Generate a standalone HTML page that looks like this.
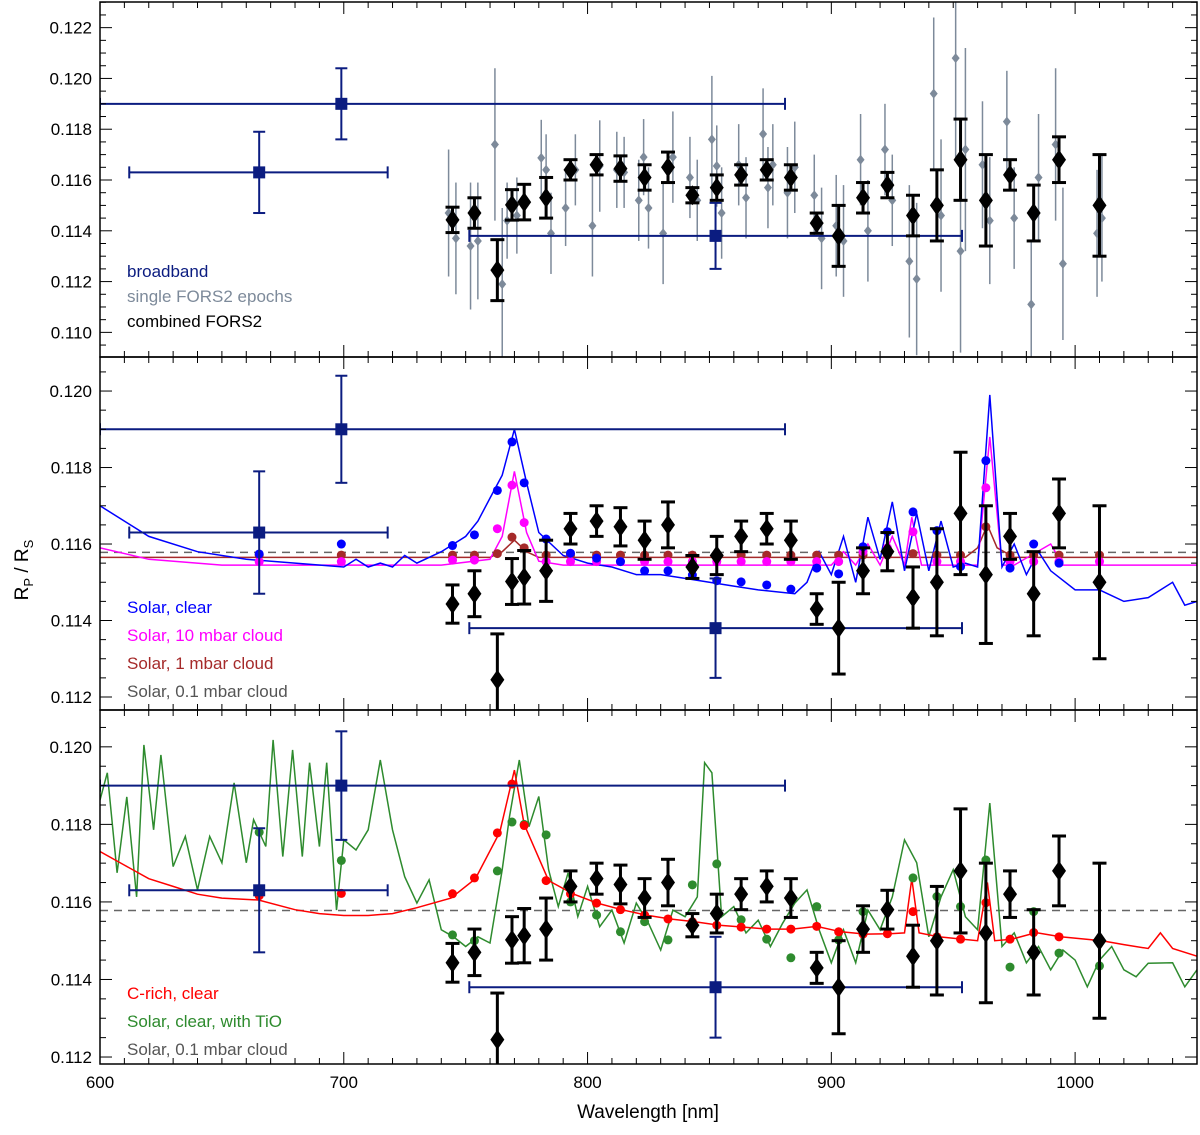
<!DOCTYPE html>
<html><head><meta charset="utf-8"><style>
body{margin:0;background:#fff}
svg{display:block;font-family:"Liberation Sans",sans-serif}
</style></head><body>
<svg id="chart" width="1200" height="1135" viewBox="0 0 1200 1135"></svg>
<script>
// ---------- data ----------
const combWl=[744.6,753.6,763,769,774,783,793,803.7,813.5,823.4,833,843,853,863,873.5,883.4,894,903,913,923,933.5,943.3,953,963.4,973.3,983,993.4,1010];
const combVal=[0.11443,0.1147,0.11245,0.11502,0.11513,0.1153,0.1164,0.1166,0.11645,0.1161,0.1165,0.1154,0.1157,0.1162,0.1164,0.1161,0.1143,0.1138,0.1153,0.1158,0.1146,0.1150,0.1168,0.1152,0.1162,0.1147,0.1168,0.1150];
const combErr=[0.0005,0.0006,0.0012,0.0006,0.0007,0.0008,0.0004,0.0004,0.0005,0.0005,0.0006,0.0003,0.0005,0.0004,0.0004,0.0005,0.0004,0.0012,0.0006,0.0005,0.0008,0.0014,0.0016,0.0018,0.0006,0.0011,0.0009,0.0020];
const bbWl=[665.3,699,852.5];
const bbVal=[0.1163,0.1190,0.1138];
const bbErr=[0.0016,0.0014,0.0013];
const bbLo=[612,600,751.5];
const bbHi=[718,881,953.6];
const epWl=[743,746,752,755,762,765,767,771,781,783,785,791,795,802,805,812,815,821,823,825,831,835,842,845,851,853,855,862,865,872,874,876,882,885,893,896,902,905,912,915,922,925,932,935,942,945,951,953,955,962,965,972,975,982,985,992,995,1009,1011];
const epVal=[0.1147,0.1137,0.1134,0.1136,0.1174,0.1119,0.1144,0.1146,0.11687,0.1164,0.1139,0.1149,0.1164,0.1142,0.11655,0.1164,0.1163,0.1152,0.1169,0.1149,0.1139,0.1169,0.1161,0.1152,0.1176,0.11655,0.1147,0.1166,0.1153,0.11781,0.1157,0.1166,0.1155,0.1165,0.1154,0.1137,0.1142,0.1136,0.1168,0.1140,0.1172,0.1152,0.1128,0.1121,0.1194,0.1146,0.1208,0.1132,0.1172,0.1166,0.1144,0.1183,0.1145,0.1111,0.1161,0.1174,0.1127,0.1139,0.1145];
const epErr=[0.0025,0.0022,0.0025,0.0023,0.003,0.003,0.0015,0.0015,0.0015,0.0014,0.0016,0.0015,0.0014,0.002,0.0018,0.0015,0.0014,0.0016,0.0015,0.0016,0.002,0.0018,0.0016,0.0016,0.0025,0.0016,0.0018,0.0016,0.0016,0.0018,0.0016,0.0016,0.0018,0.0018,0.0016,0.002,0.002,0.0022,0.0018,0.002,0.0018,0.0018,0.003,0.003,0.003,0.003,0.004,0.004,0.004,0.0025,0.0025,0.002,0.002,0.0025,0.0025,0.003,0.003,0.0025,0.0025];
const binWl=[665.3,699,744.6,753.6,763,769,774,783,793,803.7,813.5,823.4,833,843,853,863,873.5,883.4,894,903,913,923,933.5,943.3,953,963.4,973.3,983,993.4,1010];
const blueDots=[0.11574,0.1160,0.11596,0.11624,0.1174,0.11867,0.1176,0.11613,0.11576,0.11563,0.11554,0.1153,0.1153,0.11519,0.11504,0.11501,0.11493,0.11482,0.11537,0.11522,0.11593,0.11632,0.11684,0.11635,0.11541,0.11818,0.11537,0.1160,0.1155,0.11498];
const magDots=[0.11554,0.11554,0.11558,0.11558,0.1164,0.11754,0.11656,0.11554,0.11554,0.11554,0.11554,0.11554,0.11554,0.11554,0.11554,0.11554,0.11554,0.11554,0.11554,0.11554,0.1158,0.1159,0.11632,0.11554,0.11554,0.11747,0.11554,0.11554,0.11554,0.11554];
const brownDots=[0.11571,0.11571,0.11571,0.11571,0.11575,0.11618,0.1159,0.11571,0.11571,0.11571,0.11571,0.11571,0.11571,0.11571,0.11571,0.11571,0.11571,0.11571,0.11571,0.11571,0.11571,0.11571,0.11575,0.11571,0.11571,0.11645,0.11571,0.11571,0.11571,0.11571];
const redDots=[0.11616,0.11622,0.11621,0.11662,0.11778,0.11904,0.11797,0.11655,0.11621,0.11597,0.1158,0.11566,0.11556,0.11549,0.1154,0.11535,0.1153,0.1153,0.11537,0.11523,0.11517,0.11518,0.11575,0.1151,0.11504,0.11598,0.11504,0.11521,0.1151,0.115];
const greenDots=[0.1178,0.11707,0.11515,0.115,0.1168,0.11806,0.1180,0.11773,0.1160,0.11566,0.11523,0.11549,0.11502,0.11644,0.11698,0.11554,0.11504,0.11456,0.11588,0.11502,0.11575,0.11577,0.11662,0.11614,0.11588,0.11708,0.11432,0.11575,0.11468,0.11435];
const blueWl=[600,620,640,660,680,700,705,710,715,720,725,730,740,750,755,760,765,770,775,780,790,800,810,820,830,840,850,860,870,885,890,895,900,905,910,915,920,925,930,935,940,945,950,955,960,965,970,975,980,985,990,1000,1010,1020,1030,1040,1045,1050];
const blueVal=[0.1170,0.1162,0.1158,0.1156,0.1155,0.1154,0.1156,0.1154,0.1155,0.1154,0.1157,0.1155,0.1158,0.1162,0.1166,0.1172,0.1178,0.1190,0.1176,0.1163,0.1157,0.1155,0.1154,0.1152,0.1152,0.1151,0.1150,0.1149,0.1148,0.1147,0.1150,0.1158,0.1152,0.1162,0.1150,0.1167,0.1156,0.1171,0.1153,0.1168,0.1153,0.1166,0.1154,0.1155,0.1154,0.1199,0.1154,0.1160,0.1152,0.1158,0.1153,0.1148,0.1148,0.1145,0.1146,0.1150,0.1144,0.1145];
const magWl=[600,620,650,700,740,760,765,770,775,780,790,900,905,910,915,920,925,930,933,937,940,960,965,970,975,990,995,1000,1050];
const magVal=[0.1159,0.1156,0.11545,0.11545,0.11545,0.1156,0.1162,0.1179,0.1163,0.11555,0.11545,0.11545,0.1158,0.11545,0.1160,0.11545,0.1162,0.11545,0.1167,0.11545,0.11545,0.11545,0.1188,0.11545,0.11545,0.1160,0.11545,0.11545,0.11545];
const brownWl=[600,760,765,770,775,780,955,960,964,968,975,1050];
const brownVal=[0.11565,0.11565,0.1158,0.1161,0.1158,0.11565,0.11565,0.1159,0.1165,0.1159,0.11565,0.11565];
const cloudVal=0.11578;
const redWl=[600,610,620,630,640,650,665,680,690,700,710,720,730,744,754,764,770,774,784,794,804,814,824,834,844,854,864,874,884,894,904,914,924,930,933,936,944,954,960,964,967,974,984,994,1011,1020,1030,1035,1040,1050];
const redVal=[0.1173,0.11695,0.1166,0.1164,0.1162,0.1161,0.11605,0.1158,0.1157,0.11565,0.11565,0.1157,0.11585,0.1161,0.1166,0.1178,0.1194,0.1180,0.11655,0.11621,0.11597,0.1158,0.11566,0.11556,0.11549,0.1154,0.11535,0.1153,0.1153,0.11537,0.11523,0.11517,0.11518,0.1152,0.1166,0.1152,0.1151,0.11504,0.1150,0.1165,0.1150,0.11504,0.11521,0.1151,0.1150,0.1149,0.1148,0.1152,0.1148,0.1146];
const greenWl=[600,603,607,611,615,618,622,625,630,635,640,645,650,655,660,663,668,671,675,679,683,686,690,693,697,700,705,710,715,720,725,730,735,740,745,750,755,760,765,768,772,776,780,784,788,792,796,800,805,810,815,820,825,830,835,840,845,848,851,855,860,865,870,875,880,885,890,895,900,905,910,915,920,925,930,935,940,945,950,955,960,965,970,975,980,985,990,995,1000,1005,1010,1015,1020,1025,1030,1040,1045,1050];
const greenVal=[0.11863,0.11933,0.11675,0.11871,0.11613,0.12005,0.11786,0.11979,0.11691,0.11769,0.11631,0.11769,0.11701,0.11907,0.11701,0.11812,0.11743,0.12018,0.11717,0.11992,0.11717,0.11959,0.11743,0.11959,0.11579,0.1176,0.11734,0.11786,0.11966,0.11786,0.11665,0.11597,0.11657,0.11528,0.1151,0.11485,0.1151,0.11494,0.11683,0.1182,0.11966,0.11794,0.11872,0.11683,0.11588,0.11675,0.11562,0.1164,0.11536,0.11579,0.11494,0.11597,0.11545,0.11476,0.11579,0.11562,0.11613,0.11959,0.11933,0.11562,0.11588,0.1152,0.11553,0.11485,0.11545,0.11597,0.11631,0.11528,0.11443,0.11528,0.11443,0.11579,0.11528,0.11613,0.1176,0.11701,0.1151,0.11613,0.11683,0.11562,0.11528,0.11855,0.11485,0.1152,0.11443,0.11485,0.11425,0.11476,0.1145,0.11381,0.1145,0.11485,0.11425,0.11407,0.11442,0.11443,0.11381,0.11425];
const xTicks=[600,700,800,900,1000];
const topTicks=[0.110,0.112,0.114,0.116,0.118,0.120,0.122];
const midTicks=[0.112,0.114,0.116,0.118,0.120];
const botTicks=[0.112,0.114,0.116,0.118,0.120];

// ---------- helpers ----------
const NS="http://www.w3.org/2000/svg";
const svg=document.getElementById('chart');
function mk(tag,attrs,parent){const e=document.createElementNS(NS,tag);for(const k in attrs)e.setAttribute(k,attrs[k]);(parent||svg).appendChild(e);return e;}
const X0=100,X1=1197;
const xs=v=>X0+(v-600)*(X1-X0)/450;
const panels=[
 {name:'top',y0:2,y1:357,vTop:0.12301,vBot:0.10903,ticks:topTicks},
 {name:'middle',y0:357,y1:710,vTop:0.12089,vBot:0.11166,ticks:midTicks},
 {name:'bottom',y0:710,y1:1064,vTop:0.12095,vBot:0.11182,ticks:botTicks}
];
panels.forEach(p=>{p.ys=v=>p.y0+(p.vTop-v)*(p.y1-p.y0)/(p.vTop-p.vBot);});

function clipFor(p){
  const id='clip-'+p.name;
  const d=mk('defs',{});const c=mk('clipPath',{id:id},d);
  mk('rect',{x:X0,y:p.y0,width:X1-X0+1,height:p.y1-p.y0},c);
  return 'url(#'+id+')';
}
function line(p,wl,val,color,w,name,dash){
  const g=p.g;
  const pts=wl.map((w0,i)=>xs(w0).toFixed(1)+','+p.ys(val[i]).toFixed(1)).join(' ');
  const el=mk('polyline',{points:pts,fill:'none',stroke:color,'stroke-width':w},g);
  if(dash)el.setAttribute('stroke-dasharray',dash);
  
  
}
function dots(p,wl,val,color,r,name){
  const g=mk('g',{},p.g);
  
  
  wl.forEach((w0,i)=>{const c=mk('circle',{cx:xs(w0),cy:p.ys(val[i]),r:r,fill:color},g);
    
    });
}
function epochs(p){
  const g=mk('g',{},p.g);
  
  
  epWl.forEach((w0,i)=>{const x=xs(w0),y=p.ys(epVal[i]);
    mk('line',{x1:x,x2:x,y1:p.ys(epVal[i]+epErr[i]),y2:p.ys(epVal[i]-epErr[i]),stroke:'#7d8a9a','stroke-width':1.5},g);
    const d=mk('polygon',{points:`${x},${y-5} ${x+4},${y} ${x},${y+5} ${x-4},${y}`,fill:'#7d8a9a'},g);
    
    });
}
function broadband(p){
  const g=mk('g',{},p.g);
  
  
  bbWl.forEach((w0,i)=>{const x=xs(w0),y=p.ys(bbVal[i]),xl=xs(bbLo[i]),xh=xs(bbHi[i]);
    const yt=p.ys(bbVal[i]+bbErr[i]),yb=p.ys(bbVal[i]-bbErr[i]);
    const s={stroke:'#0b1c80','stroke-width':2};
    mk('line',Object.assign({x1:xl,x2:xh,y1:y,y2:y},s),g);
    mk('line',Object.assign({x1:x,x2:x,y1:yt,y2:yb},s),g);
    mk('line',Object.assign({x1:x-6,x2:x+6,y1:yt,y2:yt},s),g);
    mk('line',Object.assign({x1:x-6,x2:x+6,y1:yb,y2:yb},s),g);
    mk('line',Object.assign({x1:xl,x2:xl,y1:y-6,y2:y+6},s),g);
    mk('line',Object.assign({x1:xh,x2:xh,y1:y-6,y2:y+6},s),g);
    const r=mk('rect',{x:x-6,y:y-6,width:12,height:12,fill:'#0b1c80'},g);
    
    });
}
function combined(p){
  const g=mk('g',{},p.g);
  
  
  combWl.forEach((w0,i)=>{const x=xs(w0),y=p.ys(combVal[i]);
    const yt=p.ys(combVal[i]+combErr[i]),yb=p.ys(combVal[i]-combErr[i]);
    const s={stroke:'#000','stroke-width':3};
    mk('line',Object.assign({x1:x,x2:x,y1:yt,y2:yb},s),g);
    mk('line',Object.assign({x1:x-7,x2:x+7,y1:yt,y2:yt},s),g);
    mk('line',Object.assign({x1:x-7,x2:x+7,y1:yb,y2:yb},s),g);
    const d=mk('polygon',{points:`${x},${y-10} ${x+7},${y} ${x},${y+10} ${x-7},${y}`,fill:'#000'},g);
    
    });
}
function axes(p,showX){
  const g=mk('g',{},svg);
  
  
  for(let v=Math.ceil(p.vBot/0.0005)*0.0005;v<p.vTop;v+=0.0005){
    const y=p.ys(v);const major=Math.abs(v/0.002-Math.round(v/0.002))<1e-6;
    const L=major?12:6;
    mk('line',{x1:X0,x2:X0+L,y1:y,y2:y,stroke:'#000','stroke-width':1},g);
    mk('line',{x1:X1-L,x2:X1,y1:y,y2:y,stroke:'#000','stroke-width':1},g);
  }
  p.ticks.forEach(v=>{const t=mk('text',{x:X0-8,y:p.ys(v)+6,'text-anchor':'end','font-size':17,fill:'#000'},g);
    t.textContent=v.toFixed(3);
    
    });
  for(let w0=600;w0<=1050;w0+=10){
    const x=xs(w0);const L=(w0%100===0)?12:6;
    mk('line',{x1:x,x2:x,y1:p.y0,y2:p.y0+L,stroke:'#000','stroke-width':1},g);
    mk('line',{x1:x,x2:x,y1:p.y1-L,y2:p.y1,stroke:'#000','stroke-width':1},g);
  }
  mk('rect',{x:X0,y:p.y0,width:X1-X0,height:p.y1-p.y0,fill:'none',stroke:'#000','stroke-width':1.5},g);
  if(showX){xTicks.forEach(v=>{const t=mk('text',{x:xs(v),y:p.y1+24,'text-anchor':'middle','font-size':17,fill:'#000'},g);
    t.textContent=v;
    
    });}
}
function legend(p,items,y0,dy){
  items.forEach((it,i)=>{const t=mk('text',{x:127,y:y0+i*dy,'font-size':17,fill:it[1]},svg);
    t.textContent=it[0];
    
    });
}

// ---------- draw ----------
panels.forEach(p=>{p.g=mk('g',{'clip-path':clipFor(p)});});
const [P1,P2,P3]=panels;




epochs(P1);broadband(P1);combined(P1);

line(P2,[600,1050],[cloudVal,cloudVal],'#666',1.5,'solar-0.1mbar-cloud-line','8,6');
line(P2,brownWl,brownVal,'#a52a2a',1.5,'solar-1mbar-cloud-line');
line(P2,magWl,magVal,'#ff00ff',1.5,'solar-10mbar-cloud-line');
line(P2,blueWl,blueVal,'#0000ff',1.5,'solar-clear-line');
dots(P2,binWl,brownDots,'#a52a2a',4.5,'solar-1mbar-binned');
dots(P2,binWl,magDots,'#ff00ff',4.5,'solar-10mbar-binned');
dots(P2,binWl,blueDots,'#0000ff',4.5,'solar-clear-binned');
broadband(P2);combined(P2);

line(P3,[600,1050],[cloudVal,cloudVal],'#666',1.5,'solar-0.1mbar-cloud-line','8,6');
line(P3,greenWl,greenVal,'#2e8b2e',1.5,'solar-tio-line');
line(P3,redWl,redVal,'#ff0000',1.5,'c-rich-clear-line');
dots(P3,binWl,greenDots,'#2e8b2e',4.5,'solar-tio-binned');
dots(P3,binWl,redDots,'#ff0000',4.5,'c-rich-binned');
broadband(P3);combined(P3);

axes(P1,false);axes(P2,false);axes(P3,true);

legend(P1,[['broadband','#0b1c80'],['single FORS2 epochs','#7d8a9a'],['combined FORS2','#000']],277,25);
legend(P2,[['Solar, clear','#0000ff'],['Solar, 10 mbar cloud','#ff00ff'],['Solar, 1 mbar cloud','#a52a2a'],['Solar, 0.1 mbar cloud','#555']],613,28);
legend(P3,[['C-rich, clear','#ff0000'],['Solar, clear, with TiO','#2e8b2e'],['Solar, 0.1 mbar cloud','#555']],999,28);

const xt=mk('text',{x:648,y:1118,'text-anchor':'middle','font-size':19,fill:'#000'});
xt.textContent='Wavelength [nm]';


const yt=mk('text',{x:0,y:0,'text-anchor':'middle','font-size':19,fill:'#000',transform:'translate(28,570) rotate(-90)'});
yt.innerHTML='R<tspan font-size="13" dy="5">P</tspan><tspan dy="-5"> / R</tspan><tspan font-size="13" dy="5">S</tspan>';


</script>
</body></html>
